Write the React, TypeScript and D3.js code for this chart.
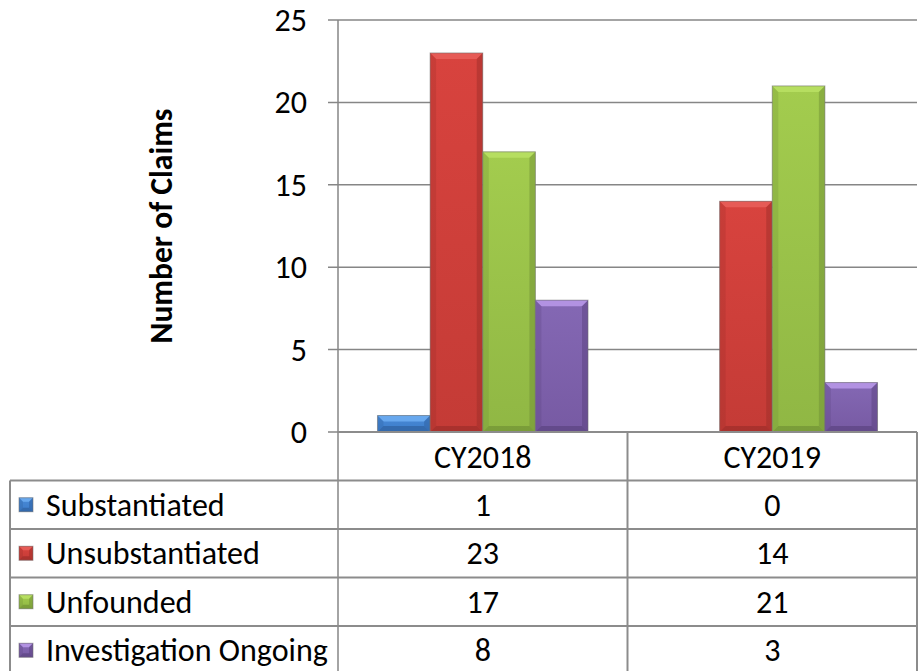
import * as d3 from 'd3';
import React, { useEffect, useRef } from 'react';

const categories = ['CY2018', 'CY2019'];
const seriesNames = ['Substantiated', 'Unsubstantiated', 'Unfounded', 'Investigation Ongoing'];
const substantiated = [1, 0];
const unsubstantiated = [23, 14];
const unfounded = [17, 21];
const investigationOngoing = [8, 3];
const yTicks = [0, 5, 10, 15, 20, 25];
const yTitle = 'Number of Claims';

const seriesValues = [substantiated, unsubstantiated, unfounded, investigationOngoing];

const palette = [
  { base: '#3d7dca', light: '#68a8ee', dark: '#2d5c98', top: '#4889d6' },
  { base: '#c43b36', light: '#e65b56', dark: '#982c28', top: '#d8433e' },
  { base: '#90b744', light: '#b6de60', dark: '#6d8c32', top: '#a3cc4e' },
  { base: '#775aa3', light: '#b292e2', dark: '#573f7b', top: '#8468b4' },
];

const FONT = "Carlito, Calibri, 'Open Sans', sans-serif";

export default function App() {
  const ref = useRef<SVGSVGElement | null>(null);

  useEffect(() => {
    const width = 922;
    const height = 671;
    const svg = d3.select(ref.current);
    svg.selectAll('*').remove();
    svg.attr('width', width).attr('height', height);

    const left = 338;
    const right = 917;
    const top = 20;
    const bottom = 432;
    const tableLeft = 10;
    const rowH = 48.5;
    const gridColor = '#868686';

    // size the font so the longest legend label spans as in the reference
    const probe = svg
      .append('text')
      .attr('font-family', FONT)
      .attr('font-size', 24)
      .text('Investigation Ongoing');
    const pw = (probe.node() as SVGTextElement).getComputedTextLength() || 282;
    probe.remove();
    const fs = (24 * 282) / pw;

    const probe2 = svg
      .append('text')
      .attr('font-family', FONT)
      .attr('font-weight', 'bold')
      .attr('font-size', 22)
      .text(yTitle);
    const tw = (probe2.node() as SVGTextElement).getComputedTextLength() || 235;
    probe2.remove();
    const titleFs = (22 * 235) / tw;

    const defs = svg.append('defs');
    palette.forEach((p, i) => {
      const g = defs.append('linearGradient').attr('id', `grad${i}`).attr('x1', 0).attr('y1', 0).attr('x2', 0).attr('y2', 1);
      g.append('stop').attr('offset', '0%').attr('stop-color', p.top);
      g.append('stop').attr('offset', '100%').attr('stop-color', p.base);
    });

    const x = d3.scaleBand<string>().domain(categories).range([left, right]);
    // Excel gap width 150%
    const gap = (x.bandwidth() * 1.5) / (seriesNames.length + 1.5);
    const x1 = d3
      .scaleBand<string>()
      .domain(seriesNames)
      .range([gap / 2, x.bandwidth() - gap / 2]);
    const y = d3.scaleLinear().domain([0, 25]).range([bottom, top]);

    yTicks.forEach(t => {
      svg
        .append('line')
        .attr('x1', left - 10)
        .attr('x2', right)
        .attr('y1', y(t))
        .attr('y2', y(t))
        .attr('stroke', gridColor)
        .attr('stroke-width', 1.5);
      svg
        .append('text')
        .attr('x', 307)
        .attr('y', y(t))
        .attr('text-anchor', 'end')
        .attr('dominant-baseline', 'central')
        .attr('font-family', FONT)
        .attr('font-size', fs)
        .attr('fill', '#000')
        .text(t);
    });

    svg
      .append('text')
      .attr('transform', `translate(161,${(top + bottom) / 2}) rotate(-90)`)
      .attr('text-anchor', 'middle')
      .attr('dominant-baseline', 'central')
      .attr('font-family', FONT)
      .attr('font-weight', 'bold')
      .attr('font-size', titleFs)
      .text(yTitle);

    const bevel = (
      gSel: d3.Selection<SVGGElement, unknown, null, undefined>,
      bx: number,
      by: number,
      bw: number,
      bh: number,
      p: (typeof palette)[0],
      i: number,
      b: number,
    ) => {
      const bb = Math.min(b, bh / 2, bw / 2);
      gSel.append('rect').attr('x', bx).attr('y', by).attr('width', bw).attr('height', bh).attr('fill', `url(#grad${i})`);
      gSel
        .append('path')
        .attr('d', `M${bx},${by}L${bx + bw},${by}L${bx + bw - bb},${by + bb}L${bx + bb},${by + bb}Z`)
        .attr('fill', p.light);
      gSel
        .append('path')
        .attr('d', `M${bx},${by}L${bx + bb},${by + bb}L${bx + bb},${by + bh - bb}L${bx},${by + bh}Z`)
        .attr('fill', p.dark)
        .attr('opacity', 0.25);
      gSel
        .append('path')
        .attr('d', `M${bx + bw},${by}L${bx + bw - bb},${by + bb}L${bx + bw - bb},${by + bh - bb}L${bx + bw},${by + bh}Z`)
        .attr('fill', p.dark)
        .attr('opacity', 0.45);
      gSel
        .append('path')
        .attr('d', `M${bx},${by + bh}L${bx + bb},${by + bh - bb}L${bx + bw - bb},${by + bh - bb}L${bx + bw},${by + bh}Z`)
        .attr('fill', p.dark)
        .attr('opacity', 0.6);
      gSel
        .append('rect')
        .attr('x', bx)
        .attr('y', by)
        .attr('width', bw)
        .attr('height', bh)
        .attr('fill', 'none')
        .attr('stroke', '#6e6e6e')
        .attr('stroke-opacity', 0.55)
        .attr('stroke-width', 1);
    };

    const bars = svg.append('g');
    seriesValues.forEach((vals, si) => {
      vals.forEach((v, ci) => {
        if (v <= 0) return;
        const bx = (x(categories[ci]) as number) + (x1(seriesNames[si]) as number);
        const by = y(v);
        bevel(bars, bx, by, x1.bandwidth(), bottom - by, palette[si], si, 6);
      });
    });

    svg
      .append('line')
      .attr('x1', left)
      .attr('x2', left)
      .attr('y1', top)
      .attr('y2', height)
      .attr('stroke', gridColor)
      .attr('stroke-width', 1.5);

    // data table
    const tbl = svg.append('g');
    const lineColor = '#8c8c8c';
    const hLines = [bottom, ...seriesNames.map((_, i) => bottom + rowH * (i + 1))];
    hLines.forEach((ly, i) => {
      tbl
        .append('line')
        .attr('x1', i === 0 ? left : tableLeft)
        .attr('x2', right)
        .attr('y1', ly)
        .attr('y2', ly)
        .attr('stroke', lineColor)
        .attr('stroke-width', 2);
    });
    tbl
      .append('line')
      .attr('x1', tableLeft)
      .attr('x2', tableLeft)
      .attr('y1', bottom + rowH)
      .attr('y2', height)
      .attr('stroke', lineColor)
      .attr('stroke-width', 2);
    categories.forEach(c => {
      const cx = (x(c) as number) + x.bandwidth();
      tbl
        .append('line')
        .attr('x1', cx)
        .attr('x2', cx)
        .attr('y1', bottom)
        .attr('y2', height)
        .attr('stroke', lineColor)
        .attr('stroke-width', 2);
      tbl
        .append('text')
        .attr('x', (x(c) as number) + x.bandwidth() / 2)
        .attr('y', bottom + rowH / 2 + 1)
        .attr('text-anchor', 'middle')
        .attr('dominant-baseline', 'central')
        .attr('font-family', FONT)
        .attr('font-size', fs)
        .text(c);
    });

    seriesNames.forEach((name, si) => {
      const rowMid = bottom + rowH * (si + 1) + rowH / 2;
      bevel(tbl as any, 19, rowMid - 7, 14, 14, palette[si], si, 4);
      tbl
        .append('text')
        .attr('x', 46)
        .attr('y', rowMid)
        .attr('dominant-baseline', 'central')
        .attr('font-family', FONT)
        .attr('font-size', fs)
        .text(name);
      seriesValues[si].forEach((v, ci) => {
        tbl
          .append('text')
          .attr('x', (x(categories[ci]) as number) + x.bandwidth() / 2)
          .attr('y', rowMid)
          .attr('text-anchor', 'middle')
          .attr('dominant-baseline', 'central')
          .attr('font-family', FONT)
          .attr('font-size', fs)
          .text(v);
      });
    });
  }, []);

  return (
    <div style={{ position: 'absolute', left: 0, top: 0, background: '#fff' }}>
      <svg ref={ref} style={{ display: 'block' }} />
    </div>
  );
}
